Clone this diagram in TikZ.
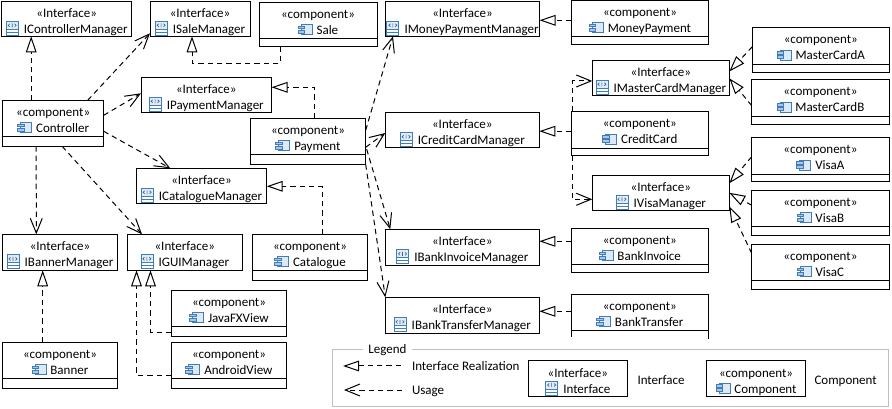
\documentclass[tikz,border=0pt]{standalone}
\usepackage{fontspec}
\setmainfont{Carlito}
\usetikzlibrary{arrows.meta,shapes.multipart}
\definecolor{iconblue}{HTML}{3F7CB8}
\definecolor{iconfill}{HTML}{A9C8E6}
\newcommand{\ifaceicon}{\tikz[baseline=1.5pt,x=0.75pt,y=0.75pt,line width=0.55pt,draw=iconblue]{
		\fill[iconfill!35] (0,6) rectangle (12,14);
		\draw (0,0) rectangle (12,14) (0,3) -- (12,3) (0,6) -- (12,6);
		\draw[line width=0.5pt, draw=iconblue!80!black] (3.5,11.5) -- (2,10) -- (3.5,8.5) (8.5,11.5) -- (10,10) -- (8.5,8.5) (6,12) -- (6,8);
	}}
\newcommand{\compicon}{\tikz[baseline=0pt,x=0.75pt,y=0.75pt,line width=0.6pt,draw=iconblue]{
		\draw[fill=iconfill!40] (3,0) rectangle (14,10);
		\draw[fill=iconfill] (0,5.8) rectangle (6.5,8.5);
		\draw[fill=iconfill] (0,1.5) rectangle (6.5,4.2);
	}}
\newcommand{\ifacetext}[1]{\rule{0pt}{12pt}«Interface»\\\ifaceicon\hspace{4pt}#1\rule[-2.25pt]{0pt}{1pt}}
\newcommand{\comptext}[1]{\rule{0pt}{12pt}«component»\\\compicon\hspace{3pt}#1\rule[-3pt]{0pt}{1pt}}
\tikzset{
	boxfont/.style={font=\fontsize{9.75}{12}\selectfont},
	iface/.style={draw, boxfont, align=center, anchor=north west, inner ysep=0pt, inner xsep=0pt, outer sep=0pt, minimum width=#1*0.75pt},
	comp/.style 2 args={rectangle split, rectangle split parts=2, draw, boxfont, align=center, anchor=north west, inner ysep=0pt, inner xsep=0pt, outer sep=0pt, minimum width=#1*0.75pt, rectangle split empty part height=#2*0.75pt, rectangle split empty part depth=0pt},
	lbl/.style={boxfont, anchor=west, inner sep=0pt},
	realize/.style={dash pattern=on 4pt off 3pt, -{Triangle[open,length=12pt,width=8pt]}},
	usage/.style={dash pattern=on 4pt off 3pt, -{Straight Barb[length=11pt,width=9pt]}},
}
\begin{document}
\begin{tikzpicture}[x=0.75pt,y=-0.75pt,line width=0.75pt]
	\useasboundingbox (0,0) rectangle (892,409);

	\node (ictrl)[iface=130] at (1.7,1.3) {\ifacetext{IControllerManager}};
	\node (isale)[iface=100] at (150,1.3) {\ifacetext{ISaleManager}};
	\node (ipay)[iface=130.5] at (141,77.3) {\ifacetext{IPaymentManager}};
	\node (icat)[iface=130.4] at (136.3,168.3) {\ifacetext{ICatalogueManager}};
	\node (iban)[iface=115.4, minimum height=27pt] at (2.3,234.3) {\ifacetext{IBannerManager}};
	\node (igui)[iface=115, minimum height=27pt] at (127.3,234.3) {\ifacetext{IGUIManager}};
	\node (imoney)[iface=154] at (385.5,1.3) {\ifacetext{IMoneyPaymentManager}};
	\node (icredit)[iface=154] at (385.3,112.7) {\ifacetext{ICreditCardManager}};
	\node (ibinv)[iface=154, minimum height=27pt] at (385.3,229.3) {\ifacetext{IBankInvoiceManager}};
	\node (ibt)[iface=154, minimum height=27pt] at (385.3,297.3) {\ifacetext{IBankTransferManager}};
	\node (imc)[iface=137] at (592.3,60.3) {\ifacetext{IMasterCardManager}};
	\node (ivisa)[iface=137] at (592.3,175.3) {\ifacetext{IVisaManager}};

	\node (ctrl)[comp={101}{9}] at (2.7,100.3) {\comptext{Controller}};
	\node (sale)[comp={118}{7}] at (259,2.3) {\comptext{Sale}};
	\node (pay)[comp={115.4}{9}] at (250.3,118.3) {\comptext{Payment}};
	\node (cat)[comp={115.4}{9}] at (252.3,234.3) {\comptext{Catalogue}};
	\node (java)[comp={115.4}{9}] at (171.3,290.3) {\comptext{JavaFXView}};
	\node (android)[comp={115.4}{9}] at (171.3,342.3) {\comptext{AndroidView}};
	\node (banner)[comp={115.4}{9}] at (2.3,342.3) {\comptext{Banner}};
	\node (money)[comp={137}{7}] at (571.5,0.3) {\comptext{MoneyPayment}};
	\node (credit)[comp={137}{7}] at (571.3,111.7) {\comptext{CreditCard}};
	\node (binv)[comp={137}{7}] at (571.3,228.3) {\comptext{BankInvoice}};
	\node (btrans)[comp={137}{7}] at (571.3,294.3) {\comptext{BankTransfer}};
	\node (mca)[comp={137}{8}] at (752.3,27.7) {\comptext{MasterCardA}};
	\node (mcb)[comp={137.5}{8}] at (751.7,79.7) {\comptext{MasterCardB}};
	\node (visaa)[comp={137.5}{7}] at (751.7,137.7) {\comptext{VisaA}};
	\node (visab)[comp={137.5}{8}] at (751.7,190.3) {\comptext{VisaB}};
	\node (visac)[comp={137.5}{8}] at (751.7,244.3) {\comptext{VisaC}};
	\draw[white, line width=1.5pt] (btrans.south west) -- (btrans.south east);

	\draw[realize] ([shift={(28.5,0)}]ctrl.north west) -- ([shift={(29.5,0)}]ictrl.south west);
	\draw[realize] ([shift={(21,0)}]sale.south west) -- ++(0,17) -| ([shift={(42,0)}]isale.south west);
	\draw[realize] ([shift={(64,0)}]pay.north west) |- ([shift={(0,10)}]ipay.north east);
	\draw[realize] ([shift={(70,0)}]cat.north west) |- ([shift={(0,18)}]icat.north east);
	\draw[realize] ([shift={(40.4,0)}]banner.north west) -- ([shift={(40.4,0)}]iban.south west);
	\draw[realize] ([shift={(0,33)}]android.north west) -| ([shift={(9.2,0)}]igui.south west);
	\draw[realize] ([shift={(0,42)}]java.north west) -| ([shift={(23.2,0)}]igui.south west);
	\draw[realize] ([shift={(0,20)}]money.north west) -- ([shift={(0,19)}]imoney.north east);
	\draw[realize] ([shift={(0,19.5)}]credit.north west) -- ([shift={(0,18.5)}]icredit.north east);
	\draw[realize] ([shift={(0,13)}]binv.north west) -- ([shift={(0,12)}]ibinv.north east);
	\draw[realize] ([shift={(0,17)}]btrans.north west) -- ([shift={(0,14)}]ibt.north east);
	\draw[realize] ([shift={(0,19)}]mca.north west) -- ([shift={(0,11.2)}]imc.north east);
	\draw[realize] ([shift={(0,26)}]mcb.north west) -- ([shift={(0,18)}]imc.north east);
	\draw[realize] ([shift={(0,19)}]visaa.north west) -- ([shift={(0,8)}]ivisa.north east);
	\draw[realize] ([shift={(0,15)}]visab.north west) -- ([shift={(0,17.5)}]ivisa.north east);
	\draw[realize] ([shift={(0,9)}]visac.north west) -- ([shift={(0,31)}]ivisa.north east);

	\draw[usage] ([shift={(85,0)}]ctrl.north west) -- ([shift={(0,-3)}]isale.south west);
	\draw[usage] ([shift={(0,15)}]ctrl.north east) -- ([shift={(0,16)}]ipay.north west);
	\draw[usage] ([shift={(0,31)}]ctrl.north east) -- ([shift={(34,0)}]icat.north west);
	\draw[usage] ([shift={(33.5,0)}]ctrl.south west) -- ([shift={(34,0)}]iban.north west);
	\draw[usage] ([shift={(59.5,0)}]ctrl.south west) -- ([shift={(14.7,0)}]igui.north west);
	\draw[usage] ([shift={(0,12)}]pay.north east) -- ([shift={(7.5,0)}]imoney.south west);
	\draw[usage] ([shift={(0,29)}]pay.north east) -- ([shift={(0,20.3)}]icredit.north west);
	\draw[usage] ([shift={(1,31)}]pay.north east) -- ([shift={(5,0)}]ibinv.north west);
	\draw[usage] (pay.south east) -- (ibt.north west);
	\draw[usage] ([shift={(0.7,0)}]credit.north west) |- ([shift={(0,20.7)}]imc.north west);
	\draw[usage] ([shift={(0.7,0)}]credit.south west) |- ([shift={(0,24)}]ivisa.north west);

	\node (legendbox)[draw=black!25, anchor=north west, inner sep=0pt, outer sep=0pt, minimum width=417pt, minimum height=42.4pt] at (332.5,349.5) {};
	\node (legendtitle)[boxfont, fill=white, inner xsep=3.75pt, inner ysep=1pt] at (387.5,350) {Legend};
	\coordinate (realizefrom) at (401,366);
	\coordinate (realizeto) at (343,366);
	\coordinate (usagefrom) at (402,390);
	\coordinate (usageto) at (344,390);
	\draw[realize] (realizefrom) -- (realizeto);
	\draw[usage] (usagefrom) -- (usageto);
	\node (realizelbl)[lbl] at (411.5,366) {Interface Realization};
	\node (usagelbl)[lbl] at (411.5,391) {Usage};
	\node (legendiface)[iface=99] at (528.3,361) {\ifacetext{Interface}};
	\node (legendifacelbl)[lbl] at (637,380) {Interface};
	\node (legendcomp)[iface=99.5] at (706.3,361) {\rule{0pt}{12pt}«component»\\\compicon\hspace{3pt}Component\rule[-2.25pt]{0pt}{1pt}};
	\node (legendcomplbl)[lbl] at (814,381) {Component};
\end{tikzpicture}
\end{document}
